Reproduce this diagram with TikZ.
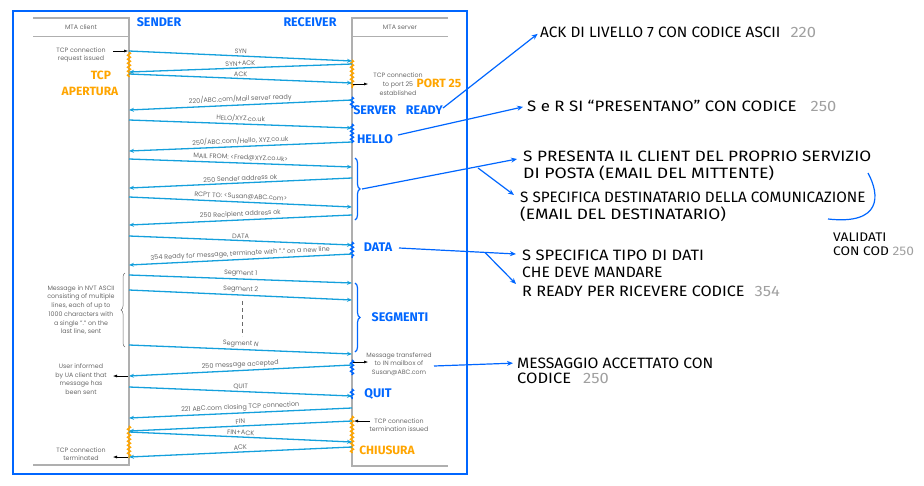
\documentclass[tikz,border=0pt]{standalone}
\usepackage{graphicx}
\usepackage{fontspec}
\setmainfont{Poppins}
\newfontfamily\hand{Fira Sans}
\newfontfamily\handw[FakeStretch=1.1]{Fira Sans}
\usetikzlibrary{arrows.meta,decorations.pathmorphing,decorations.pathreplacing}
\definecolor{frameblue}{RGB}{0,102,255}
\definecolor{msgcol}{RGB}{20,160,220}
\definecolor{orng}{RGB}{255,165,0}
\definecolor{linegray}{RGB}{175,175,175}
\definecolor{txtgray}{RGB}{105,105,105}
\definecolor{numgray}{RGB}{160,160,160}
\tikzset{
  msgR/.style={draw=msgcol, line width=1.3pt, -{Stealth[length=5pt,width=4pt]}},
  msgL/.style={draw=msgcol, line width=1.3pt, {Stealth[length=5pt,width=4pt]}-},
  lbl/.style={sloped, above=1pt, inner sep=0.5pt, text=txtgray, font=\fontsize{6.5}{7}\selectfont},
  note/.style={text=txtgray, align=center, inner sep=0pt, font=\fontsize{6.3}{8.7}\selectfont},
  pointer/.style={draw=black, line width=0.5pt, -{Latex[length=4pt,width=3pt]}},
  life/.style={draw=linegray, line width=2pt},
  hdr/.style={draw=linegray, line width=1pt},
  bhand/.style={text=frameblue, inner sep=0pt, font=\hand\bfseries\fontsize{12.5}{12.5}\selectfont},
  ohand/.style={text=orng, inner sep=0pt, font=\hand\bfseries\fontsize{12}{12}\selectfont},
  htxt/.style={anchor=west, inner sep=0pt, font=\handw\fontsize{15}{15}\selectfont},
  stxt/.style={anchor=west, inner sep=0pt, font=\handw\fontsize{12.5}{12.5}\selectfont},
  conn/.style={draw=frameblue, line width=1.2pt, -{Stealth[length=6pt,width=5pt]}},
  plainconn/.style={draw=frameblue, line width=1.2pt},
  squig/.style={decorate, decoration={snake, amplitude=1.4pt, segment length=4pt}, line width=1.5pt}
}
\begin{document}
\begin{tikzpicture}[x=1pt,y=-1pt]
\useasboundingbox (0,0) rectangle (924,485);
% frame
\draw[frameblue, line width=2pt] (13,11) rectangle (467,474);
% client and server boxes
\draw[life] (33,18) -- (129,18) -- (129,465) -- (33,465);
\draw[hdr] (33,36) -- (129,36);
\draw[life] (448,18) -- (352,18) -- (352,466) -- (448,466);
\draw[hdr] (352,36) -- (448,36);
\node[note] (mtac) at (81,27) {MTA client};
\node[note] (mtas) at (400,27) {MTA server};
% lifeline coordinates
\foreach \n/\y in {1/51,2/72,3/74,4/110,5/120,6/151,7/159,8/188,9/197,10/225,11/236,12/265,13/275,14/290,15/345,16/376,17/387,18/418,19/431,20/432,21/457}
  \coordinate (c\n) at (129,\y);
\foreach \n/\y in {1/61,2/64,3/83,4/100,5/128,6/142,7/167,8/178,9/207,10/215,11/245,12/254,13/283,14/300,15/354,16/365,17/396,18/408,19/421,20/442,21/447}
  \coordinate (s\n) at (352,\y);
% orange squiggles
\draw[squig, orng] (129,52) -- (129,77);
\draw[squig, orng] (352,60) -- (352,88);
\draw[squig, orng] (129,426) -- (129,458);
\draw[squig, orng] (352,416) -- (352,453);
% blue squiggles
\draw[squig, frameblue] (352,97) -- (352,108);
\draw[squig, frameblue] (352,124) -- (352,143);
\draw[squig, frameblue] (352,242) -- (352,258);
\draw[squig, frameblue] (352,360) -- (352,375);
\draw[squig, frameblue] (352,389) -- (352,399);
% messages
\draw[msgR] (c1) -- node[lbl] {SYN} (s1);
\draw[msgL] (c2) -- node[lbl] {SYN+ACK} (s2);
\draw[msgR] (c3) -- node[lbl] {ACK} (s3);
\draw[msgL] (c4) -- node[lbl] {220/ABC.com/Mail server ready} (s4);
\draw[msgR] (c5) -- node[lbl] {HELO/XYZ.co.uk} (s5);
\draw[msgL] (c6) -- node[lbl] {250/ABC.com/Hello, XYZ.co.uk} (s6);
\draw[msgR] (c7) -- node[lbl] {MAIL FROM: <Fred@XYZ.co.uk>} (s7);
\draw[msgL] (c8) -- node[lbl] {250 Sender address ok} (s8);
\draw[msgR] (c9) -- node[lbl] {RCPT TO: <Susan@ABC.com>} (s9);
\draw[msgL] (c10) -- node[lbl] {250 Recipient address ok} (s10);
\draw[msgR] (c11) -- node[lbl] {DATA} (s11);
\draw[msgL] (c12) -- node[lbl] {354 Ready for message, terminate with "." on a new line} (s12);
\draw[msgR] (c13) -- node[lbl] {Segment 1} (s13);
\draw[msgR] (c14) -- node[lbl] {Segment 2} (s14);
\draw[msgR] (c15) -- node[lbl] {Segment \textit{N}} (s15);
\draw[msgL] (c16) -- node[lbl] {250 message accepted} (s16);
\draw[msgR] (c17) -- node[lbl] {QUIT} (s17);
\draw[msgL] (c18) -- node[lbl] {221 ABC.com closing TCP connection} (s18);
\draw[msgL] (c19) -- node[lbl] {FIN} (s19);
\draw[msgR] (c20) -- node[lbl] {FIN+ACK} (s20);
\draw[msgL] (c21) -- node[lbl] {ACK} (s21);
% dashed
\coordinate (dtop) at (242,301);
\coordinate (dbot) at (242,336);
\draw[txtgray, line width=0.5pt, dash pattern=on 4pt off 3pt] (dtop) -- (dbot);
% side notes
\node[note] (tcpreq) at (81,55) {TCP connection\\request issued};
\node[note] (tcpest) at (398,84) {TCP connection\\to port 25\\established};
\node[note] (nvt) at (81,310) {Message in NVT ASCII\\consisting of multiple\\lines, each of up to\\1000 characters with\\a single "." on the\\last line, sent};
\node[note] (usr) at (81,379) {User informed\\by UA client that\\message has\\been sent};
\node[note] (mtr) at (399,364) {Message transferred\\to IN mailbox of\\Susan@ABC.com};
\node[note] (tiss) at (399,425) {TCP connection\\termination issued};
\node[note] (tterm) at (81,454) {TCP connection\\terminated};
% pointers
\coordinate (pa1) at (113,51); \coordinate (pa2) at (128,51);
\draw[pointer] (pa1) -- (pa2);
\coordinate (pb1) at (353,84); \coordinate (pb2) at (368,84);
\draw[pointer] (pb1) -- (pb2);
\coordinate (pc1) at (128,376); \coordinate (pc2) at (113,376);
\draw[pointer] (pc1) -- (pc2);
\coordinate (pd1) at (353,362); \coordinate (pd2) at (368,362);
\draw[pointer] (pd1) -- (pd2);
\coordinate (pe1) at (370,421); \coordinate (pe2) at (354,421);
\draw[pointer] (pe1) -- (pe2);
\coordinate (pf1) at (128,457); \coordinate (pf2) at (113,457);
\draw[pointer] (pf1) -- (pf2);
% gray brace
\draw[txtgray, line width=0.5pt, decorate, decoration={brace, amplitude=4pt}] (125,347) -- (125,273);
% blue braces
\draw[frameblue, line width=1.2pt, decorate, decoration={brace, amplitude=5pt}] (355,158) -- coordinate[xshift=7pt] (br1) (355,220);
\draw[frameblue, line width=1.2pt, decorate, decoration={brace, amplitude=5pt}] (355,283) -- coordinate[xshift=7pt] (br2) (355,352);
% hand labels
\node[bhand] (sender) at (159,22) {SENDER};
\node[bhand] (receiver) at (310,22) {RECEIVER};
\node[bhand] (srvready) at (398,110) {SERVER\hspace{10pt}READY};
\node[bhand] (hello) at (375,139) {HELLO};
\node[bhand] (datal) at (378,247) {DATA};
\node[bhand] (segm) at (400,317) {SEGMENTI};
\node[bhand] (quitl) at (378,394) {QUIT};
\node[ohand] (tcpo) at (101,75) {TCP};
\node[ohand] (aper) at (90,91) {APERTURA};
\node[ohand] (port) at (439,83) {PORT 25};
\node[ohand] (chius) at (387,450) {CHIUSURA};
% right annotations
\node[htxt] (h1) at (540,32) {\scalebox{0.93}[1]{ACK DI LIVELLO 7 CON CODICE ASCII}\hspace{10pt}\textcolor{numgray}{220}};
\node[htxt] (h2) at (527,106) {\scalebox{1.02}[1]{S e R SI “PRESENTANO” CON CODICE}\hspace{14pt}\textcolor{numgray}{250}};
\node[htxt] (h3a) at (523,156) {\scalebox{1.04}[1]{S PRESENTA IL CLIENT DEL PROPRIO SERVIZIO}};
\node[htxt] (h3b) at (523,173) {\scalebox{1.07}[1]{DI POSTA (EMAIL DEL MITTENTE)}};
\node[htxt] (h4a) at (520,197) {\scalebox{0.925}[1]{S SPECIFICA DESTINATARIO DELLA COMUNICAZIONE}};
\node[htxt] (h4b) at (520,214) {\scalebox{1.05}[1]{(EMAIL DEL DESTINATARIO)}};
\node[stxt] (v1) at (833,237) {VALIDATI};
\node[stxt] (v2) at (833,251) {CON COD \textcolor{numgray}{250}};
\node[htxt] (h5a) at (522,255) {S SPECIFICA TIPO DI DATI};
\node[htxt] (h5b) at (522,272) {\scalebox{0.95}[1]{CHE DEVE MANDARE}};
\node[htxt] (h5c) at (522,291) {\scalebox{0.98}[1]{R READY PER RICEVERE CODICE}\hspace{10pt}\textcolor{numgray}{354}};
\node[htxt] (h6a) at (517,363) {\scalebox{0.95}[1]{MESSAGGIO ACCETTATO CON}};
\node[htxt] (h6b) at (517,378) {CODICE\hspace{12pt}\textcolor{numgray}{250}};
% connectors
\coordinate (k1s) at (443,108);
\draw[conn, shorten >=3pt] (k1s) -- (h1.west);
\coordinate (k2s) at (398,135);
\draw[conn, shorten >=4pt] (k2s) -- (h2.west);
\coordinate (t3a) at (517,159);
\coordinate (t3b) at (514,195);
\coordinate (f3) at (478,168);
\draw[conn] (br1) -- (t3a);
\draw[conn] (f3) -- (t3b);
\coordinate (k4s) at (399,248);
\coordinate (t4a) at (516,254);
\coordinate (t4b) at (516,284);
\coordinate (f4) at (485,252.5);
\draw[conn] (k4s) -- (t4a);
\draw[conn] (f4) -- (t4b);
\coordinate (k5s) at (434,366);
\draw[conn, shorten >=4pt] (k5s) -- (h6a.west);
% validati curve
\coordinate (va) at (868,173);
\coordinate (vb) at (828,219);
\draw[plainconn] (va) .. controls (880,195) and (882,225) .. (vb);
\end{tikzpicture}
\end{document}
